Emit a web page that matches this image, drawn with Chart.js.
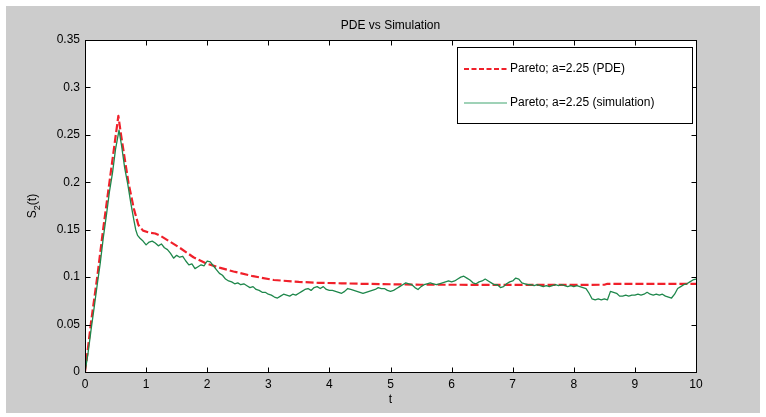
<!DOCTYPE html>
<html>
<head>
<meta charset="utf-8">
<script src="https://cdn.jsdelivr.net/npm/chart.js@4/dist/chart.umd.min.js"></script>
<style>
  html, body { margin: 0; padding: 0; background: #ffffff; }
  #wrap { position: relative; width: 766px; height: 417px; }
  canvas { display: block; }
</style>
</head>
<body>
<div id="wrap"><canvas id="c" width="766" height="417"></canvas></div>
<script>
// Second moment S2(t): PDE solution vs. Monte Carlo simulation (Pareto, a = 2.25)
const chartTitle = 'PDE vs Simulation';
const xLabel = 't';
const seriesLabels = ['Pareto; a=2.25 (PDE)', 'Pareto; a=2.25 (simulation)'];

const xTickValues = [0, 1, 2, 3, 4, 5, 6, 7, 8, 9, 10];
const yTickValues = [0, 0.05, 0.1, 0.15, 0.2, 0.25, 0.3, 0.35];

// PDE curve
const pdeT = [0, 0.02, 0.1, 0.2, 0.3, 0.4, 0.5, 0.546, 0.59, 0.65, 0.71, 0.8, 0.874, 0.95, 1.05, 1.15,
  1.25, 1.4, 1.55, 1.775, 2.0, 2.2, 2.43, 2.75, 3.09, 3.5, 3.82, 4.2, 4.5, 5.0, 5.5, 6.0, 7.0, 8.0,
  8.5, 8.55, 9.0, 10.0];
const pdeS = [0, 0.01, 0.053, 0.1, 0.152, 0.2, 0.248, 0.27, 0.25, 0.225, 0.2, 0.172, 0.155, 0.149, 0.147, 0.146,
  0.143, 0.137, 0.131, 0.121, 0.114, 0.11, 0.106, 0.101, 0.097, 0.095, 0.094, 0.0935, 0.093, 0.0925, 0.092, 0.092, 0.0918, 0.0918,
  0.092, 0.093, 0.093, 0.093];

// Simulation path
const simT = [0, 0.05, 0.1, 0.15, 0.2, 0.25, 0.3, 0.35, 0.4, 0.45, 0.5, 0.557, 0.6, 0.65, 0.7, 0.75, 0.8, 0.83, 0.86, 0.9,
  0.95, 1.0, 1.05, 1.1, 1.15, 1.2, 1.25, 1.3, 1.35, 1.4, 1.45, 1.5, 1.55, 1.6, 1.65, 1.7, 1.75, 1.8, 1.85, 1.9,
  1.95, 2.0, 2.05, 2.1, 2.15, 2.2, 2.25, 2.3, 2.35, 2.4, 2.45, 2.5, 2.55, 2.6, 2.65, 2.7, 2.75, 2.8, 2.85, 2.9,
  2.95, 3.0, 3.05, 3.1, 3.15, 3.2, 3.25, 3.3, 3.35, 3.4, 3.45, 3.5, 3.55, 3.6, 3.65, 3.7, 3.75, 3.8, 3.85, 3.9,
  3.95, 4.0, 4.05, 4.1, 4.15, 4.2, 4.25, 4.3, 4.35, 4.4, 4.45, 4.5, 4.55, 4.6, 4.65, 4.7, 4.75, 4.8, 4.85, 4.9,
  4.95, 5.0, 5.05, 5.1, 5.15, 5.2, 5.25, 5.3, 5.35, 5.4, 5.45, 5.5, 5.55, 5.6, 5.65, 5.7, 5.75, 5.8, 5.85, 5.9,
  5.95, 6.0, 6.05, 6.1, 6.15, 6.2, 6.25, 6.3, 6.35, 6.4, 6.45, 6.5, 6.55, 6.6, 6.65, 6.7, 6.75, 6.8, 6.85, 6.9,
  6.95, 7.0, 7.05, 7.1, 7.15, 7.2, 7.25, 7.3, 7.35, 7.4, 7.45, 7.5, 7.55, 7.6, 7.65, 7.7, 7.75, 7.8, 7.85, 7.9,
  7.95, 8.0, 8.05, 8.1, 8.15, 8.2, 8.25, 8.3, 8.35, 8.4, 8.45, 8.5, 8.55, 8.6, 8.65, 8.7, 8.75, 8.8, 8.85, 8.9,
  8.95, 9.0, 9.05, 9.1, 9.15, 9.2, 9.25, 9.3, 9.35, 9.4, 9.45, 9.5, 9.55, 9.6, 9.65, 9.7, 9.75, 9.8, 9.85, 9.9,
  9.95, 10.0];
const simS = [0, 0.02, 0.045, 0.068, 0.092, 0.115, 0.142, 0.165, 0.19, 0.21, 0.235, 0.255, 0.238, 0.215, 0.198, 0.178, 0.16, 0.15, 0.144, 0.141,
  0.138, 0.134, 0.137, 0.138, 0.136, 0.133, 0.135, 0.131, 0.129, 0.125, 0.12, 0.123, 0.121, 0.122, 0.117, 0.113, 0.114, 0.109, 0.111, 0.113,
  0.112, 0.117, 0.116, 0.112, 0.108, 0.104, 0.102, 0.098, 0.096, 0.095, 0.093, 0.094, 0.092, 0.093, 0.091, 0.089, 0.09, 0.087, 0.086, 0.084,
  0.084, 0.082, 0.081, 0.079, 0.078, 0.08, 0.082, 0.081, 0.08, 0.082, 0.081, 0.083, 0.085, 0.087, 0.088, 0.086, 0.089, 0.09, 0.088, 0.09,
  0.087, 0.086, 0.086, 0.085, 0.084, 0.083, 0.085, 0.088, 0.087, 0.086, 0.085, 0.084, 0.083, 0.084, 0.085, 0.086, 0.087, 0.089, 0.088, 0.088,
  0.086, 0.085, 0.086, 0.088, 0.09, 0.092, 0.094, 0.093, 0.092, 0.089, 0.087, 0.09, 0.092, 0.093, 0.094, 0.093, 0.092, 0.093, 0.094, 0.095,
  0.096, 0.095, 0.096, 0.098, 0.1, 0.101, 0.099, 0.097, 0.094, 0.093, 0.095, 0.096, 0.098, 0.096, 0.094, 0.092, 0.092, 0.089, 0.09, 0.093,
  0.095, 0.096, 0.099, 0.098, 0.094, 0.093, 0.092, 0.092, 0.091, 0.092, 0.091, 0.09, 0.091, 0.09, 0.091, 0.092, 0.091, 0.092, 0.091, 0.09,
  0.091, 0.09, 0.091, 0.09, 0.089, 0.088, 0.083, 0.077, 0.076, 0.077, 0.076, 0.077, 0.076, 0.085, 0.084, 0.083, 0.08, 0.08, 0.081, 0.08,
  0.081, 0.081, 0.082, 0.081, 0.082, 0.084, 0.082, 0.081, 0.082, 0.081, 0.082, 0.08, 0.079, 0.078, 0.082, 0.088, 0.09, 0.092, 0.093, 0.095,
  0.097, 0.098];

const FONT = '"Liberation Sans", Arial, Helvetica, sans-serif';
const pdeColor = '#f0202a';
const simColor = '#1e874b';
const simLegendColor = '#7fc39f';

const toPoints = (xs, ys) => xs.map((x, i) => ({ x: x, y: ys[i] }));

// MATLAB-style frame: grey figure, white axes box, inward ticks on all sides, title, labels, legend
const frame = {
  id: 'frame',
  beforeDraw(chart) {
    const ctx = chart.ctx, a = chart.chartArea;
    ctx.save();
    ctx.fillStyle = '#ffffff';
    ctx.fillRect(0, 0, chart.width, chart.height);
    ctx.fillStyle = '#cccccc';
    ctx.fillRect(6, 6, chart.width - 12, chart.height - 10);
    ctx.fillStyle = '#ffffff';
    ctx.fillRect(a.left, a.top, a.right - a.left, a.bottom - a.top);
    ctx.restore();
  },
  afterDraw(chart) {
    const ctx = chart.ctx, a = chart.chartArea;
    const xs = chart.scales.x, ys = chart.scales.y;
    const L = Math.round(a.left) + 0.5, R = Math.round(a.right) + 0.5;
    const T = Math.round(a.top) + 0.5, B = Math.round(a.bottom) + 0.5;
    const tick = 5;
    ctx.save();
    ctx.strokeStyle = '#000000';
    ctx.lineWidth = 1;
    ctx.beginPath();
    xTickValues.forEach(v => {
      const px = Math.round(xs.getPixelForValue(v)) + 0.5;
      ctx.moveTo(px, B); ctx.lineTo(px, B - tick);
      ctx.moveTo(px, T); ctx.lineTo(px, T + tick);
    });
    yTickValues.forEach(v => {
      const py = Math.round(ys.getPixelForValue(v)) + 0.5;
      ctx.moveTo(L, py); ctx.lineTo(L + tick, py);
      ctx.moveTo(R, py); ctx.lineTo(R - tick, py);
    });
    ctx.stroke();
    ctx.strokeRect(L, T, R - L, B - T);

    // title and x label
    ctx.fillStyle = '#000000';
    ctx.font = '12px ' + FONT;
    ctx.textAlign = 'center';
    ctx.textBaseline = 'middle';
    ctx.fillText(chartTitle, (a.left + a.right) / 2, 26);
    ctx.fillText(xLabel, (a.left + a.right) / 2, 400);

    // y label S_2(t), rotated
    ctx.save();
    ctx.translate(36, (a.top + a.bottom) / 2);
    ctx.rotate(-Math.PI / 2);
    ctx.textAlign = 'left';
    ctx.textBaseline = 'alphabetic';
    ctx.font = '12px ' + FONT;
    const wS = ctx.measureText('S').width;
    ctx.font = '9px ' + FONT;
    const w2 = ctx.measureText('2').width;
    ctx.font = '12px ' + FONT;
    const wT = ctx.measureText('(t)').width;
    let x0 = -(wS + w2 + wT) / 2;
    ctx.fillText('S', x0, 0);
    ctx.font = '9px ' + FONT;
    ctx.fillText('2', x0 + wS, 4);
    ctx.font = '12px ' + FONT;
    ctx.fillText('(t)', x0 + wS + w2, 0);
    ctx.restore();

    // legend box
    const lx = 457, ly = 47, lw = 235, lh = 76;
    ctx.fillStyle = '#ffffff';
    ctx.fillRect(lx, ly, lw, lh);
    ctx.strokeStyle = '#000000';
    ctx.strokeRect(lx + 0.5, ly + 0.5, lw, lh);
    const rows = [
      { label: seriesLabels[0], color: pdeColor, dash: [5, 2.5], width: 2, y: 69 },
      { label: seriesLabels[1], color: simLegendColor, dash: [], width: 1.5, y: 103 }
    ];
    rows.forEach(r => {
      ctx.strokeStyle = r.color;
      ctx.lineWidth = r.width;
      ctx.setLineDash(r.dash);
      ctx.beginPath();
      ctx.moveTo(464, r.y);
      ctx.lineTo(507, r.y);
      ctx.stroke();
      ctx.setLineDash([]);
      ctx.fillStyle = '#000000';
      ctx.font = '12px ' + FONT;
      ctx.textAlign = 'left';
      ctx.textBaseline = 'middle';
      ctx.fillText(r.label, 510, r.y);
    });
    ctx.restore();
  }
};

new Chart(document.getElementById('c'), {
  type: 'line',
  data: {
    datasets: [
      {
        label: seriesLabels[0],
        data: toPoints(pdeT, pdeS),
        borderColor: pdeColor,
        borderWidth: 2.2,
        borderDash: [8, 3],
        borderJoinStyle: 'round',
        pointRadius: 0,
        tension: 0,
        order: 2
      },
      {
        label: seriesLabels[1],
        data: toPoints(simT, simS),
        borderColor: simColor,
        borderWidth: 1.3,
        borderJoinStyle: 'round',
        pointRadius: 0,
        tension: 0,
        order: 1
      }
    ]
  },
  options: {
    responsive: false,
    animation: false,
    events: [],
    layout: { padding: { top: 40, right: 70, left: 0, bottom: 0 } },
    plugins: { legend: { display: false }, title: { display: false }, tooltip: { enabled: false } },
    scales: {
      x: {
        type: 'linear',
        min: 0, max: 10,
        afterBuildTicks: s => { s.ticks = xTickValues.map(v => ({ value: v })); },
        afterFit: s => { s.height = 45; },
        grid: { display: false, drawTicks: false },
        border: { display: false },
        ticks: {
          color: '#000000',
          font: { family: FONT, size: 12 },
          padding: 5,
          maxRotation: 0,
          callback: v => String(v)
        }
      },
      y: {
        type: 'linear',
        min: 0, max: 0.35,
        afterBuildTicks: s => { s.ticks = yTickValues.map(v => ({ value: v })); },
        afterFit: s => { s.width = 85; },
        grid: { display: false, drawTicks: false },
        border: { display: false },
        ticks: {
          color: '#000000',
          font: { family: FONT, size: 12 },
          padding: 5,
          callback: v => String(+Number(v).toFixed(2))
        }
      }
    }
  },
  plugins: [frame]
});
</script>
</body>
</html>
